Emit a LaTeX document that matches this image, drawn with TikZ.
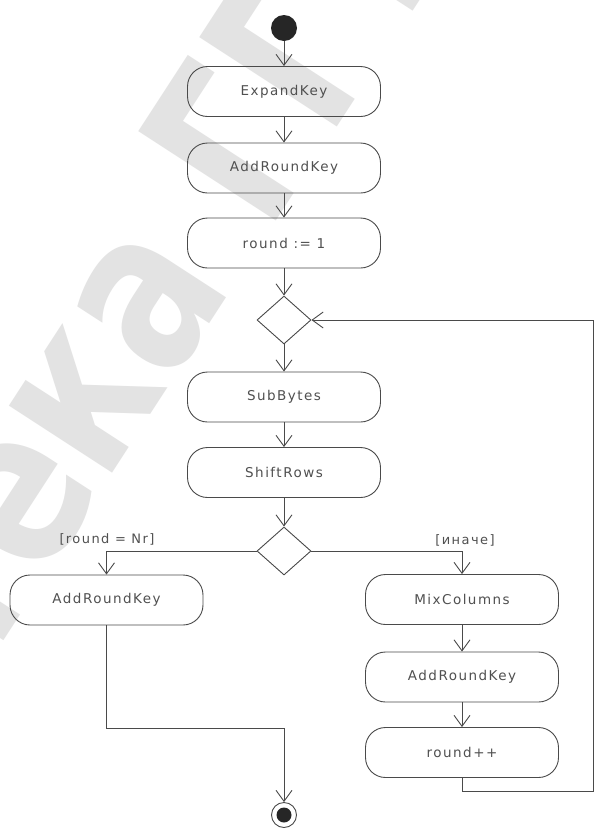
\documentclass[tikz,border=0pt]{standalone}
\usepackage{fontspec}
\setmainfont{DejaVu Sans}[LetterSpace=11]
\newfontfamily\wmfont{DejaVu Sans Bold}[FakeStretch=0.78]
\usetikzlibrary{shapes.geometric,arrows.meta}

\definecolor{linegray}{HTML}{4A4A4A}
\definecolor{textgray}{HTML}{505050}
\definecolor{wmgray}{HTML}{E3E3E3}

\tikzset{
  flow/.style={draw=linegray, line width=0.9pt},
  arr/.style={flow, -{Straight Barb[length=11pt,width=16pt,line width=0.9pt]}},
  action/.style={flow, rectangle, rounded corners=20pt, minimum width=193pt,
    minimum height=50pt, inner sep=0pt, text=textgray,
    font=\fontsize{13.5}{14}\selectfont},
  decision/.style={flow, diamond, minimum width=54pt, minimum height=48pt,
    inner sep=0pt},
  guard/.style={text=textgray, inner sep=1pt, font=\fontsize{13}{14}\selectfont},
  watermark/.style={text=wmgray, rotate=57, inner sep=0pt,
    font=\wmfont\fontsize{225}{225}\selectfont}
}

\begin{document}
\begin{tikzpicture}[x=1pt,y=-1pt]
\useasboundingbox (0,0) rectangle (595,828);
\fill[white] (0,0) rectangle (595,828);

% library watermark in the background
\begin{scope}
\clip (0,0) rectangle (595,828);
\node[watermark, anchor=base west] (wmb) at (40,585) {ека ГГТУ};
\node[watermark, anchor=base east] (wma) at (40,585) {Библиот};
\end{scope}

% main column
\fill[black!85] (284,28) circle (13pt);
\node[circle, minimum size=26pt, inner sep=0pt] (start) at (284,28) {};
\node[action] (expand) at (284,91.5) {ExpandKey};
\node[action] (ark1)   at (284,168)  {AddRoundKey};
\node[action] (init)   at (284,243)  {round := 1};
\node[decision] (merge) at (284,320) {};
\node[action] (sub)    at (284,397)  {SubBytes};
\node[action] (shift)  at (284,472.5) {ShiftRows};
\node[decision] (branch) at (284,551) {};

% final round branch
\node[action] (ark2) at (106.5,600) {AddRoundKey};
% ordinary round branch
\node[action] (mix)  at (462,599.5) {MixColumns};
\node[action] (ark3) at (462,677)   {AddRoundKey};
\node[action] (inc)  at (462,752.5) {round++};

% final state
\node[flow, circle, minimum size=25pt, inner sep=0pt] (final) at (284,815) {};
\fill[black!85] (final.center) circle (7.5pt);

% guards
\node[guard] (gNr)   at (107,539) {[round = Nr]};
\node[guard] (gelse) at (465,540) {[иначе]};

% helper points
\coordinate (join)  at (106.5,728);
\coordinate (loopB) at (593,791);

% connectors
\draw[arr] (start) -- (expand);
\draw[arr] (expand) -- (ark1);
\draw[arr] (ark1) -- (init);
\draw[arr] (init) -- (merge);
\draw[arr] (merge) -- (sub);
\draw[arr] (sub) -- (shift);
\draw[arr] (shift) -- (branch);
\draw[arr] (branch.west) -| (ark2.north);
\draw[arr] (branch.east) -| (mix.north);
\draw[arr] (mix) -- (ark3);
\draw[arr] (ark3) -- (inc);
\draw[arr] (ark2.south) -- (join) -| (final.north);
\draw[arr] (inc.south) |- (loopB) |- (merge.east);
\end{tikzpicture}
\end{document}
